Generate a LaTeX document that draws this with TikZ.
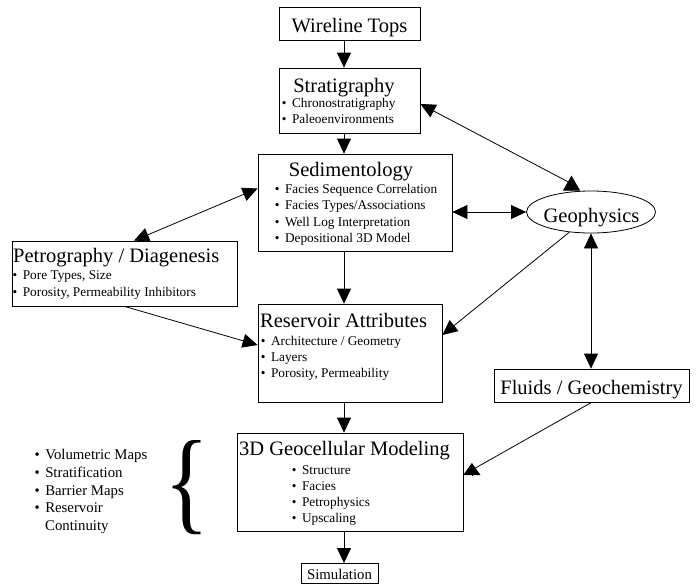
\documentclass[tikz,border=0pt]{standalone}
\usepackage{fontspec}
\setmainfont{Liberation Serif}
\usepackage{graphicx}
\usetikzlibrary{arrows.meta,calc,shapes.geometric}
\tikzset{
  box/.style={draw, line width=0.8pt, inner sep=0pt},
  ttl/.style={inner sep=0pt, font=\fontsize{20.5}{24}\selectfont},
  itm/.style={inner sep=0pt, anchor=base west, font=\fontsize{13.3}{16}\selectfont},
  lst/.style={inner sep=0pt, anchor=base west, font=\fontsize{14.8}{18}\selectfont},
  plain/.style={line width=0.8pt},
  conn/.style={line width=0.8pt, -{Triangle[length=15pt,width=14pt]}},
  both/.style={line width=0.8pt, {Triangle[length=15pt,width=14pt]}-{Triangle[length=15pt,width=14pt]}},
  uptip/.style={line width=0.8pt, -{Triangle[length=#1,width=17pt]}},
}
\newcommand{\bul}{\textbullet\hspace{5.5pt}}
\begin{document}
\begin{tikzpicture}[x=1pt,y=-1pt]
\useasboundingbox (0,0) rectangle (699,584);
% boxes
\node[box, minimum width=141pt, minimum height=33pt] (wire) at (349.5,23.5) {};
\node[box, minimum width=141pt, minimum height=65pt] (strat) at (349.5,100.5) {};
\node[box, minimum width=194pt, minimum height=97pt] (sed) at (355,202.5) {};
\node[box, minimum width=225pt, minimum height=65pt] (petro) at (124.5,273.5) {};
\node[box, ellipse, minimum width=129pt, minimum height=42pt] (geo) at (591,212) {};
\node[box, minimum width=184pt, minimum height=98pt] (ra) at (350,353) {};
\node[box, minimum width=195pt, minimum height=33pt] (fluids) at (591.5,385.5) {};
\node[box, minimum width=226pt, minimum height=98pt] (gc) at (350,482) {};
\node[box, minimum width=77pt, minimum height=20pt] (sim) at (339.5,573.5) {};
% titles
\node[ttl, anchor=base] (twire) at (349.5,32) {Wireline Tops};
\node[ttl, anchor=base] (tstrat) at (344,92) {Stratigraphy};
\node[ttl, anchor=base] (tsed) at (351,176) {Sedimentology};
\node[ttl, anchor=base west] (tpetro) at (13,262) {Petrography / Diagenesis};
\node[ttl, anchor=base] (tgeo) at (591.5,222) {Geophysics};
\node[ttl, anchor=base west] (tra) at (260,327) {Reservoir Attributes};
\node[ttl, anchor=base] (tfluids) at (591.5,394) {Fluids / Geochemistry};
\node[ttl, anchor=base west] (tgc) at (239,455) {3D Geocellular Modeling};
\node[lst, anchor=base] (tsim) at (339.5,579) {Simulation};
% bullets
\node[itm] (s1) at (281.7,107.5) {\bul Chronostratigraphy};
\node[itm] (s2) at (281.7,123) {\bul Paleoenvironments};
\node[itm] (d1) at (274.7,193) {\bul Facies Sequence Correlation};
\node[itm] (d2) at (274.7,209.5) {\bul Facies Types/Associations};
\node[itm] (d3) at (274.7,226) {\bul Well Log Interpretation};
\node[itm] (d4) at (274.7,242) {\bul Depositional 3D Model};
\node[itm] (p1) at (12.5,279) {\bul Pore Types, Size};
\node[itm] (p2) at (12.5,296) {\bul Porosity, Permeability Inhibitors};
\node[itm] (r1) at (260.7,345) {\bul Architecture / Geometry};
\node[itm] (r2) at (260.7,361) {\bul Layers};
\node[itm] (r3) at (260.7,377) {\bul Porosity, Permeability};
\node[itm] (g1) at (291.7,474) {\bul Structure};
\node[itm] (g2) at (291.7,490) {\bul Facies};
\node[itm] (g3) at (291.7,506) {\bul Petrophysics};
\node[itm] (g4) at (291.7,522) {\bul Upscaling};
% left list
\node[lst] (l1) at (34.4,459) {\bul Volumetric Maps};
\node[lst] (l2) at (34.4,477) {\bul Stratification};
\node[lst] (l3) at (34.4,495) {\bul Barrier Maps};
\node[lst] (l4) at (34.4,512) {\bul Reservoir};
\node[lst] (l5) at (45,530) {Continuity};
\node[inner sep=0pt] (brace) at (187,488) {\resizebox{45pt}{79pt}{\{}};
% connectors
\coordinate (mx) at (344,0);
\draw[conn] (wire.south -| mx) -- (strat.north -| mx);
\draw[conn] (strat.south -| mx) -- (sed.north -| mx);
\draw[conn] (sed.south -| mx) -- (ra.north -| mx);
\draw[conn] (ra.south -| mx) -- (gc.north -| mx);
\draw[conn] (gc.south -| mx) -- (sim.north -| mx);
% Stratigraphy <-> Geophysics (tip on the ellipse drawn upright, as in the source)
\coordinate (gtb) at ($(geo.north)+(-19.5,0)$);
\coordinate (gtt) at ($(gtb)+(0,-15)$);
\draw[line width=0.8pt, {Triangle[length=15pt,width=14pt]}-] ($(strat.east)+(0,3.5)$) -- ($(gtb)+(-2,-8)$);
\draw[uptip=15pt] (gtb) -- (gtt);
\draw[both] ($(petro.north)+(9.5,0)$) -- ($(sed.west)+(0,-14)$);
\draw[both] (sed.east |- geo.west) -- (geo.west);
\draw[conn] (geo.223) -- ($(ra.east)+(0,-18)$);
\draw[conn] (petro.south) -- ($(ra.west)+(0,-8)$);
\draw[both] (geo.south) -- (fluids.north -| geo.south);
% Fluids -> 3D Geocellular (tip drawn upright, as in the source)
\coordinate (ctb) at ($(gc.east)+(8.5,-7)$);
\coordinate (ctt) at ($(ctb)+(0,-12)$);
\draw[plain] (fluids.south) -- ($(ctb)+(0,-5)$);
\draw[uptip=12pt] (ctb) -- (ctt);
\end{tikzpicture}
\end{document}
